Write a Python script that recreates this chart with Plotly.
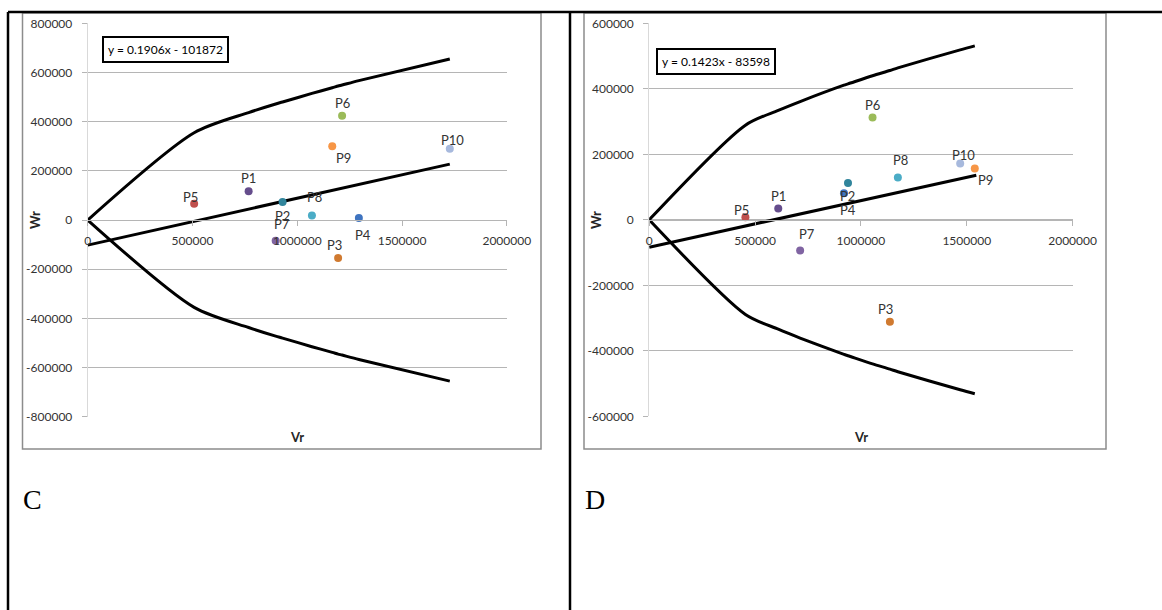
import plotly.graph_objects as go

W, H = 1162, 610

# ---------------- data ----------------
point_names = ["P1", "P2", "P3", "P4", "P5", "P6", "P7", "P8", "P9", "P10"]
point_colors = ["#654D8C", "#31859C", "#D07A30", "#3F74C0", "#C0504D",
                "#9BBB59", "#8064A2", "#4BACC6", "#F79646", "#A7B9DD"]

c_vr = [768000, 930000, 1195000, 1294000, 508000, 1214000, 897000, 1070000, 1167000, 1728000]
c_wr = [116600, 73000, -154600, 8000, 66000, 424000, -84000, 19000, 300000, 290000]

d_vr = [609600, 939000, 1137000, 920000, 454500, 1055000, 713000, 1174600, 1538000, 1469000]
d_wr = [34500, 112700, -311000, 81000, 8000, 312700, -93400, 129000, 157000, 171600]

c_curve_x = [0, 508000, 768000, 897000, 930000, 1070000, 1167000, 1195000, 1214000, 1294000, 1728000]
c_curve_up = [0, 355000, 437000, 472000, 480000, 515000, 538000, 545000, 549000, 567000, 655000]
c_curve_lo = [0, -355000, -437000, -472000, -480000, -515000, -538000, -545000, -549000, -567000, -655000]

d_curve_x = [0, 454500, 609600, 713000, 920000, 939000, 1055000, 1137000, 1174600, 1469000, 1538000]
d_curve_up = [0, 289000, 334000, 361000, 411000, 415000, 440000, 456000, 464000, 519000, 531000]
d_curve_lo = [0, -289000, -334000, -361000, -411000, -415000, -440000, -456000, -464000, -519000, -531000]

c_trend_x = [0, 1728000]
c_trend_y = [-101872, 227485]
d_trend_x = [0, 1545000]
d_trend_y = [-83598, 136256]

c_equation = "y = 0.1906x - 101872"
d_equation = "y = 0.1423x - 83598"

x_ticks = [0, 500000, 1000000, 1500000, 2000000]
x_tick_text = ["0", "500000", "1000000", "1500000", "2000000"]
c_y_ticks = [-800000, -600000, -400000, -200000, 0, 200000, 400000, 600000, 800000]
c_y_tick_text = ["-800000", "-600000", "-400000", "-200000", "0", "200000", "400000", "600000", "800000"]
d_y_ticks = [-600000, -400000, -200000, 0, 200000, 400000, 600000]
d_y_tick_text = ["-600000", "-400000", "-200000", "0", "200000", "400000", "600000"]

panel_letters = ["C", "D"]

# data-label offsets in pixels (dx right, dy down), as placed in the original charts
label_offsets = [(0, -13), (0, 13.5), (-4, -13), (4.5, 17), (-4, -7),
                 (0, -12.5), (6.5, -16.5), (2.6, -18), (11, 11.5), (3, -8.7)]

# ---------------- helpers ----------------
def px(x):
    return x / W

def py(y):
    return 1 - y / H

FONT = "Lato, 'Open Sans', sans-serif"
GRID = "#B5B5B5"
TXT = "#333333"

fig = go.Figure()
ann = []

def add_panel(vr, wr, cx, cup, clo, tx, ty, xa, ya):
    for yy in (cup, clo):
        fig.add_trace(go.Scatter(x=cx, y=yy, mode="lines", xaxis=xa, yaxis=ya,
                                 line=dict(color="black", width=3, shape="spline", smoothing=0.8),
                                 hoverinfo="skip", showlegend=False))
    fig.add_trace(go.Scatter(x=tx, y=ty, mode="lines", xaxis=xa, yaxis=ya,
                             line=dict(color="black", width=3),
                             hoverinfo="skip", showlegend=False))
    fig.add_trace(go.Scatter(x=vr, y=wr, mode="markers", xaxis=xa, yaxis=ya,
                             text=point_names, hoverinfo="text+x+y",
                             marker=dict(size=8, color=point_colors),
                             showlegend=False))
    for name, xv, yv, (dx, dy) in zip(point_names, vr, wr, label_offsets):
        ann.append(dict(text=name, x=xv, y=yv, xref=xa, yref=ya, showarrow=False,
                        xanchor="center", yanchor="middle", xshift=dx, yshift=-dy,
                        font=dict(family=FONT, size=13, color=TXT)))

add_panel(c_vr, c_wr, c_curve_x, c_curve_up, c_curve_lo, c_trend_x, c_trend_y, "x", "y")
add_panel(d_vr, d_wr, d_curve_x, d_curve_up, d_curve_lo, d_trend_x, d_trend_y, "x2", "y2")

axis_font = dict(family=FONT, size=12, color=TXT)
zero_pos = py(220)

def xaxis_cfg(x0, x1):
    return dict(domain=[px(x0), px(x1)], range=[0, 2000000], anchor="free", position=zero_pos,
                tickvals=x_ticks, ticktext=x_tick_text, showgrid=False, zeroline=False,
                showline=True, linecolor=GRID, linewidth=1, ticks="outside", ticklen=5,
                tickcolor=GRID, tickfont=axis_font, ticklabelstandoff=5, fixedrange=True,
                automargin=False)

def yaxis_cfg(xanchor, top, bot, rng, tv, tt):
    return dict(domain=[py(bot), py(top)], range=rng, anchor=xanchor,
                tickvals=tv, ticktext=tt, showgrid=True, gridcolor=GRID, gridwidth=1,
                zeroline=False, showline=True, linecolor="#D9D9D9", linewidth=1,
                ticks="outside", ticklen=5, tickcolor=GRID, tickfont=axis_font,
                ticklabelstandoff=7, fixedrange=True, automargin=False)

shapes = [
    # chart frames
    dict(type="rect", xref="paper", yref="paper", x0=px(22.5), x1=px(541), y0=py(449), y1=py(13),
         line=dict(color="#8C8C8C", width=1.5), layer="below"),
    dict(type="rect", xref="paper", yref="paper", x0=px(584), x1=px(1106), y0=py(449), y1=py(13),
         line=dict(color="#8C8C8C", width=1.5), layer="below"),
    # table lines
    dict(type="line", xref="paper", yref="paper", x0=px(8), x1=1, y0=py(12), y1=py(12),
         line=dict(color="black", width=2.5)),
    dict(type="line", xref="paper", yref="paper", x0=px(8), x1=px(8), y0=py(12), y1=0,
         line=dict(color="black", width=2.5)),
    dict(type="line", xref="paper", yref="paper", x0=px(570), x1=px(570), y0=py(12), y1=0,
         line=dict(color="black", width=2.5)),
]

for eq, x0, y0 in ((c_equation, 102, 36), (d_equation, 656, 48)):
    ann.append(dict(text=eq, xref="paper", yref="paper", x=px(x0), y=py(y0),
                    xanchor="left", yanchor="top", showarrow=False,
                    font=dict(family=FONT, size=12, color="black"),
                    bordercolor="black", borderwidth=2, borderpad=4, bgcolor="white"))
for xc in (35, 596):
    ann.append(dict(text="<b>Wr</b>", xref="paper", yref="paper", x=px(xc), y=py(220),
                    xanchor="center", yanchor="middle", textangle=-90, showarrow=False,
                    font=dict(family=FONT, size=13, color="#262626")))
for xc in (297, 861):
    ann.append(dict(text="<b>Vr</b>", xref="paper", yref="paper", x=px(xc), y=py(437),
                    xanchor="center", yanchor="middle", showarrow=False,
                    font=dict(family=FONT, size=13, color="#262626")))
for letter, xl in zip(panel_letters, (21, 583)):
    ann.append(dict(text=letter, xref="paper", yref="paper", x=px(xl), y=py(499),
                    xanchor="left", yanchor="middle", showarrow=False,
                    font=dict(family="Liberation Serif, serif", size=28, color="black")))

fig.update_layout(
    width=W, height=H, margin=dict(l=0, r=0, t=0, b=0, pad=0, autoexpand=False),
    paper_bgcolor="white", plot_bgcolor="white", showlegend=False,
    xaxis=xaxis_cfg(87.7, 506.8),
    yaxis=yaxis_cfg("x", 23.3, 416.8, [-800000, 800000], c_y_ticks, c_y_tick_text),
    xaxis2=xaxis_cfg(649.2, 1072.6),
    yaxis2=yaxis_cfg("x2", 23.3, 416.3, [-600000, 600000], d_y_ticks, d_y_tick_text),
    shapes=shapes, annotations=ann,
)

fig.write_html(
    "out.html",
    config={"displayModeBar": False},
    post_script="document.body.style.margin='0';document.body.style.overflow='hidden';",
)
